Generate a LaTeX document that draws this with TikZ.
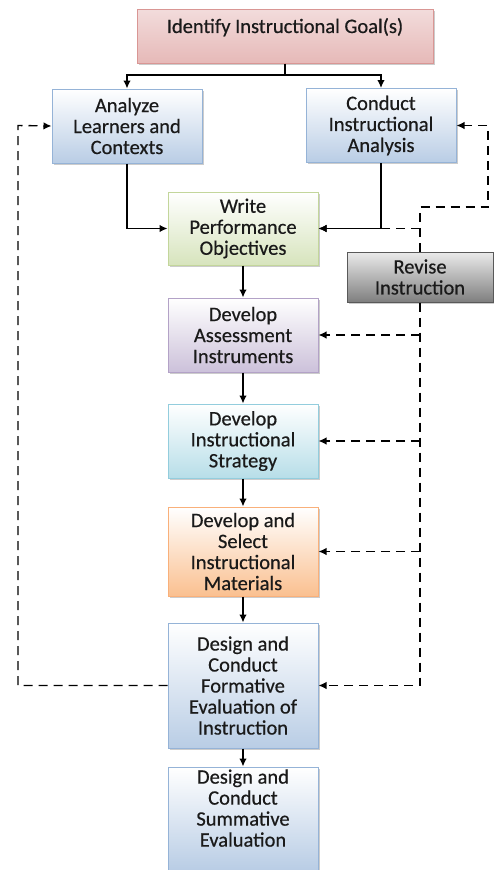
\documentclass[tikz,border=0pt]{standalone}
\usepackage{fontspec}
\setmainfont{Carlito}
\newfontfamily\boxfont[FakeBold=0.5]{Carlito}
\usetikzlibrary{shadows,arrows.meta}

\definecolor{goalfill}{HTML}{E6B9B8}
\definecolor{goalline}{HTML}{D99694}
\definecolor{bluefill}{HTML}{B9CDE5}
\definecolor{blueline}{HTML}{95B3D7}
\definecolor{greenfill}{HTML}{D7E4BD}
\definecolor{greenline}{HTML}{C3D69B}
\definecolor{purplefill}{HTML}{CCC1DA}
\definecolor{purpleline}{HTML}{B3A2C7}
\definecolor{cyanfill}{HTML}{B7DEE8}
\definecolor{cyanline}{HTML}{93CDDD}
\definecolor{orangefill}{HTML}{FAC090}
\definecolor{orangeline}{HTML}{F9B07A}
\definecolor{grayfill}{HTML}{7F7F7F}
\definecolor{grayline}{HTML}{595959}
\definecolor{textgray}{HTML}{1A1A1A}

\tikzset{
	stage/.style={rectangle,draw=#1line,line width=1pt,top color=white,bottom color=#1fill,
		minimum width=150pt,inner sep=2pt,align=center,text=textgray,
		font=\boxfont\fontsize{20.5}{21}\selectfont,
		drop shadow={shadow xshift=1.8pt,shadow yshift=-1.8pt,opacity=0.4}},
	link/.style={->,>={Latex[length=8pt,width=7.5pt]},line width=1.4pt},
	revise/.style={link,dash pattern=on 9pt off 6pt}
}

\begin{document}
\begin{tikzpicture}[x=1pt,y=-1pt]
	\useasboundingbox (0,0) rectangle (494,870);

	% Boxes of the model:
	\node [stage=goal,top color=goalfill!50,minimum width=296pt,minimum height=54pt] (goal) at (285,36) {Identify Instructional Goal(s)\\~};
	\node [stage=blue,minimum height=74pt] (learners) at (127,126) {Analyze\\Learners and\\Contexts};
	\node [stage=blue,minimum height=74pt] (analysis) at (381,125.5) {Conduct\\Instructional\\Analysis};
	\node [stage=green,minimum height=73pt] (objectives) at (243,228.5) {Write\\Performance\\Objectives};
	\node [stage=purple,minimum height=74pt] (assessment) at (243,335) {Develop\\Assessment\\Instruments};
	\node [stage=cyan,minimum height=74pt] (strategy) at (243,441) {Develop\\Instructional\\Strategy};
	\node [stage=orange,minimum height=89pt] (materials) at (243,551.5) {Develop and\\Select\\Instructional\\Materials};
	\node [stage=blue,minimum height=125pt] (formative) at (243,685.5) {Design and\\Conduct\\Formative\\Evaluation of\\Instruction};
	\node [stage=blue,minimum height=103pt] (summative) at (243,818.5) {Design and\\Conduct\\Summative\\Evaluation\\~};
	\node [stage=gray,top color=white!92!black,draw=grayline,minimum width=146pt,minimum height=50pt] (revision) at (420,277) {Revise\\Instruction};

	% Points for the corners of the feedback lines:
	\coordinate (split) at (285,75);
	\coordinate (upper) at (420,207);
	\coordinate (right) at (488,207);
	\coordinate (loop) at (18,125.5);

	% Dashed feedback from "Revise Instruction":
	\draw [revise] (revision.north) -- (upper) -- (right) |- (analysis.east);
	\draw [revise] (revision.north |- objectives.east) -- (objectives.east);
	\draw [revise] (revision.south) |- (formative.east);
	\draw [revise] (revision.south |- assessment.east) -- (assessment.east);
	\draw [revise] (revision.south |- strategy.east) -- (strategy.east);
	\draw [revise] (revision.south |- materials.east) -- (materials.east);
	\draw [revise] (formative.west) -| (loop) -- (learners.west);

	% Solid flow:
	\draw [line width=1.4pt] (goal.south) -- (split);
	\draw [link] (split) -| (learners.north);
	\draw [link] (split) -| (analysis.north);
	\draw [link] (learners.south) |- (objectives.west);
	\draw [link] (analysis.south) |- (objectives.east);
	\draw [link] (objectives) -- (assessment);
	\draw [link] (assessment) -- (strategy);
	\draw [link] (strategy) -- (materials);
	\draw [link] (materials) -- (formative);
	\draw [link] (formative) -- (summative);
\end{tikzpicture}
\end{document}
